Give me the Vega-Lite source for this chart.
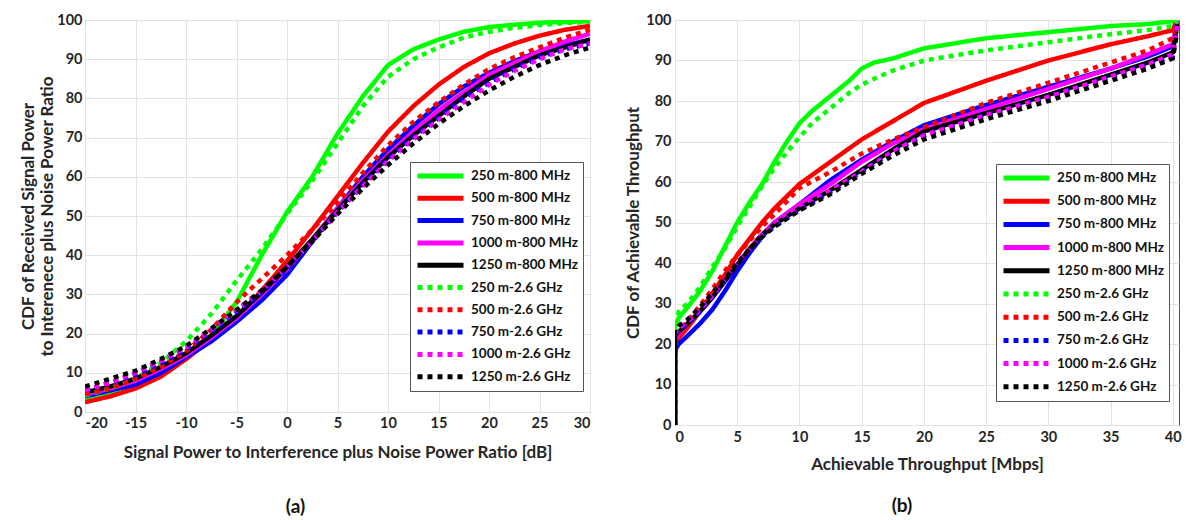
{
  "$schema": "https://vega.github.io/schema/vega-lite/v6.json",
  "background": "white",
  "padding": {"left": 19, "top": 11, "right": 2, "bottom": 2},
  "spacing": 85,
  "bounds": "flush",
  "resolve": {"scale": {"color": "independent", "strokeDash": "independent"}},
  "config": {
    "font": "Lato",
    "view": {"stroke": "#555555", "strokeWidth": 1},
    "axis": {"labelFont": "Lato", "labelFontWeight": "bold", "labelFontSize": 14.5, "labelColor": "#262626", "titleFont": "Lato", "titleFontWeight": "bold", "titleFontSize": 17, "titleColor": "#262626", "gridColor": "#e2e2e2", "domain": false, "ticks": false, "labelPadding": 5, "titleLineHeight": 19},
    "legend": {"symbolType": "stroke", "symbolSize": 2116, "symbolStrokeWidth": 5, "clipHeight": 18, "rowPadding": 4.3, "labelFont": "Lato", "labelFontSize": 13.5, "labelFontWeight": "bold", "labelColor": "#111111", "strokeColor": "#555555", "fillColor": "white", "padding": 5, "labelLimit": 200, "labelOffset": 5},
    "title": {"font": "Lato", "fontSize": 19, "fontWeight": "bold", "color": "#111111", "orient": "bottom", "anchor": "middle", "frame": "group"}
  },
  "datasets": {
    "a": [
      {"s":"250 m-800 MHz","x":-20,"y":3.2},{"s":"250 m-800 MHz","x":-17.5,"y":4.5},{"s":"250 m-800 MHz","x":-15,"y":6.5},{"s":"250 m-800 MHz","x":-12.5,"y":9.5},{"s":"250 m-800 MHz","x":-10,"y":13.5},{"s":"250 m-800 MHz","x":-7.5,"y":19.5},{"s":"250 m-800 MHz","x":-5,"y":28},{"s":"250 m-800 MHz","x":-2.5,"y":40},{"s":"250 m-800 MHz","x":0,"y":51},{"s":"250 m-800 MHz","x":2.5,"y":60},{"s":"250 m-800 MHz","x":5,"y":71},{"s":"250 m-800 MHz","x":7.5,"y":80.5},{"s":"250 m-800 MHz","x":10,"y":88.5},{"s":"250 m-800 MHz","x":12.5,"y":92.5},{"s":"250 m-800 MHz","x":15,"y":95},{"s":"250 m-800 MHz","x":17.5,"y":97},{"s":"250 m-800 MHz","x":20,"y":98.2},{"s":"250 m-800 MHz","x":22.5,"y":98.8},{"s":"250 m-800 MHz","x":25,"y":99.3},{"s":"250 m-800 MHz","x":27.5,"y":99.5},{"s":"250 m-800 MHz","x":30,"y":99.7},
      {"s":"500 m-800 MHz","x":-20,"y":2.5},{"s":"500 m-800 MHz","x":-17.5,"y":4},{"s":"500 m-800 MHz","x":-15,"y":6},{"s":"500 m-800 MHz","x":-12.5,"y":9},{"s":"500 m-800 MHz","x":-10,"y":13.5},{"s":"500 m-800 MHz","x":-7.5,"y":18.5},{"s":"500 m-800 MHz","x":-5,"y":24},{"s":"500 m-800 MHz","x":-2.5,"y":31},{"s":"500 m-800 MHz","x":0,"y":38.5},{"s":"500 m-800 MHz","x":2.5,"y":46.5},{"s":"500 m-800 MHz","x":5,"y":55},{"s":"500 m-800 MHz","x":7.5,"y":63.5},{"s":"500 m-800 MHz","x":10,"y":71.5},{"s":"500 m-800 MHz","x":12.5,"y":78},{"s":"500 m-800 MHz","x":15,"y":83.5},{"s":"500 m-800 MHz","x":17.5,"y":88},{"s":"500 m-800 MHz","x":20,"y":91.5},{"s":"500 m-800 MHz","x":22.5,"y":94},{"s":"500 m-800 MHz","x":25,"y":96},{"s":"500 m-800 MHz","x":27.5,"y":97.5},{"s":"500 m-800 MHz","x":30,"y":98.5},
      {"s":"750 m-800 MHz","x":-20,"y":4},{"s":"750 m-800 MHz","x":-17.5,"y":5.5},{"s":"750 m-800 MHz","x":-15,"y":7},{"s":"750 m-800 MHz","x":-12.5,"y":10},{"s":"750 m-800 MHz","x":-10,"y":14},{"s":"750 m-800 MHz","x":-7.5,"y":18},{"s":"750 m-800 MHz","x":-5,"y":23},{"s":"750 m-800 MHz","x":-2.5,"y":28.5},{"s":"750 m-800 MHz","x":0,"y":35},{"s":"750 m-800 MHz","x":2.5,"y":43.5},{"s":"750 m-800 MHz","x":5,"y":52},{"s":"750 m-800 MHz","x":7.5,"y":60},{"s":"750 m-800 MHz","x":10,"y":67},{"s":"750 m-800 MHz","x":12.5,"y":73},{"s":"750 m-800 MHz","x":15,"y":78.5},{"s":"750 m-800 MHz","x":17.5,"y":83},{"s":"750 m-800 MHz","x":20,"y":86.5},{"s":"750 m-800 MHz","x":22.5,"y":89.5},{"s":"750 m-800 MHz","x":25,"y":92},{"s":"750 m-800 MHz","x":27.5,"y":93.5},{"s":"750 m-800 MHz","x":30,"y":95},
      {"s":"1000 m-800 MHz","x":-20,"y":4.5},{"s":"1000 m-800 MHz","x":-17.5,"y":6},{"s":"1000 m-800 MHz","x":-15,"y":8},{"s":"1000 m-800 MHz","x":-12.5,"y":11},{"s":"1000 m-800 MHz","x":-10,"y":14.5},{"s":"1000 m-800 MHz","x":-7.5,"y":19},{"s":"1000 m-800 MHz","x":-5,"y":24},{"s":"1000 m-800 MHz","x":-2.5,"y":30},{"s":"1000 m-800 MHz","x":0,"y":36.5},{"s":"1000 m-800 MHz","x":2.5,"y":44},{"s":"1000 m-800 MHz","x":5,"y":52},{"s":"1000 m-800 MHz","x":7.5,"y":59},{"s":"1000 m-800 MHz","x":10,"y":65.5},{"s":"1000 m-800 MHz","x":12.5,"y":71.5},{"s":"1000 m-800 MHz","x":15,"y":77},{"s":"1000 m-800 MHz","x":17.5,"y":81.5},{"s":"1000 m-800 MHz","x":20,"y":86},{"s":"1000 m-800 MHz","x":22.5,"y":89},{"s":"1000 m-800 MHz","x":25,"y":92},{"s":"1000 m-800 MHz","x":27.5,"y":94.5},{"s":"1000 m-800 MHz","x":30,"y":96.5},
      {"s":"1250 m-800 MHz","x":-20,"y":5},{"s":"1250 m-800 MHz","x":-17.5,"y":6.5},{"s":"1250 m-800 MHz","x":-15,"y":8.5},{"s":"1250 m-800 MHz","x":-12.5,"y":11.5},{"s":"1250 m-800 MHz","x":-10,"y":15},{"s":"1250 m-800 MHz","x":-7.5,"y":19.5},{"s":"1250 m-800 MHz","x":-5,"y":24.5},{"s":"1250 m-800 MHz","x":-2.5,"y":30.5},{"s":"1250 m-800 MHz","x":0,"y":37},{"s":"1250 m-800 MHz","x":2.5,"y":44},{"s":"1250 m-800 MHz","x":5,"y":51.5},{"s":"1250 m-800 MHz","x":7.5,"y":58.5},{"s":"1250 m-800 MHz","x":10,"y":65},{"s":"1250 m-800 MHz","x":12.5,"y":70.5},{"s":"1250 m-800 MHz","x":15,"y":75.5},{"s":"1250 m-800 MHz","x":17.5,"y":80.5},{"s":"1250 m-800 MHz","x":20,"y":85},{"s":"1250 m-800 MHz","x":22.5,"y":88},{"s":"1250 m-800 MHz","x":25,"y":91},{"s":"1250 m-800 MHz","x":27.5,"y":93},{"s":"1250 m-800 MHz","x":30,"y":95},
      {"s":"250 m-2.6 GHz","x":-20,"y":4.2},{"s":"250 m-2.6 GHz","x":-17.5,"y":6},{"s":"250 m-2.6 GHz","x":-15,"y":8.5},{"s":"250 m-2.6 GHz","x":-12.5,"y":12.5},{"s":"250 m-2.6 GHz","x":-10,"y":18},{"s":"250 m-2.6 GHz","x":-7.5,"y":25},{"s":"250 m-2.6 GHz","x":-5,"y":33.5},{"s":"250 m-2.6 GHz","x":-2.5,"y":41.5},{"s":"250 m-2.6 GHz","x":0,"y":50.5},{"s":"250 m-2.6 GHz","x":2.5,"y":59},{"s":"250 m-2.6 GHz","x":5,"y":68.5},{"s":"250 m-2.6 GHz","x":7.5,"y":78},{"s":"250 m-2.6 GHz","x":10,"y":85.5},{"s":"250 m-2.6 GHz","x":12.5,"y":90},{"s":"250 m-2.6 GHz","x":15,"y":93},{"s":"250 m-2.6 GHz","x":17.5,"y":95.5},{"s":"250 m-2.6 GHz","x":20,"y":97},{"s":"250 m-2.6 GHz","x":22.5,"y":98},{"s":"250 m-2.6 GHz","x":25,"y":98.7},{"s":"250 m-2.6 GHz","x":27.5,"y":99.2},{"s":"250 m-2.6 GHz","x":30,"y":99.5},
      {"s":"500 m-2.6 GHz","x":-20,"y":4.5},{"s":"500 m-2.6 GHz","x":-17.5,"y":6},{"s":"500 m-2.6 GHz","x":-15,"y":8.5},{"s":"500 m-2.6 GHz","x":-12.5,"y":11.5},{"s":"500 m-2.6 GHz","x":-10,"y":15.5},{"s":"500 m-2.6 GHz","x":-7.5,"y":21},{"s":"500 m-2.6 GHz","x":-5,"y":28},{"s":"500 m-2.6 GHz","x":-2.5,"y":34},{"s":"500 m-2.6 GHz","x":0,"y":40},{"s":"500 m-2.6 GHz","x":2.5,"y":46.5},{"s":"500 m-2.6 GHz","x":5,"y":53.5},{"s":"500 m-2.6 GHz","x":7.5,"y":61},{"s":"500 m-2.6 GHz","x":10,"y":68},{"s":"500 m-2.6 GHz","x":12.5,"y":74},{"s":"500 m-2.6 GHz","x":15,"y":79},{"s":"500 m-2.6 GHz","x":17.5,"y":83.5},{"s":"500 m-2.6 GHz","x":20,"y":87.5},{"s":"500 m-2.6 GHz","x":22.5,"y":90.5},{"s":"500 m-2.6 GHz","x":25,"y":93},{"s":"500 m-2.6 GHz","x":27.5,"y":95.5},{"s":"500 m-2.6 GHz","x":30,"y":97.5},
      {"s":"750 m-2.6 GHz","x":-20,"y":5.5},{"s":"750 m-2.6 GHz","x":-17.5,"y":7.5},{"s":"750 m-2.6 GHz","x":-15,"y":9.5},{"s":"750 m-2.6 GHz","x":-12.5,"y":12.5},{"s":"750 m-2.6 GHz","x":-10,"y":16},{"s":"750 m-2.6 GHz","x":-7.5,"y":20.5},{"s":"750 m-2.6 GHz","x":-5,"y":25.5},{"s":"750 m-2.6 GHz","x":-2.5,"y":30.5},{"s":"750 m-2.6 GHz","x":0,"y":36.5},{"s":"750 m-2.6 GHz","x":2.5,"y":43.5},{"s":"750 m-2.6 GHz","x":5,"y":51},{"s":"750 m-2.6 GHz","x":7.5,"y":58},{"s":"750 m-2.6 GHz","x":10,"y":64.5},{"s":"750 m-2.6 GHz","x":12.5,"y":70},{"s":"750 m-2.6 GHz","x":15,"y":75},{"s":"750 m-2.6 GHz","x":17.5,"y":80},{"s":"750 m-2.6 GHz","x":20,"y":84},{"s":"750 m-2.6 GHz","x":22.5,"y":87.5},{"s":"750 m-2.6 GHz","x":25,"y":90.5},{"s":"750 m-2.6 GHz","x":27.5,"y":92.5},{"s":"750 m-2.6 GHz","x":30,"y":94},
      {"s":"1000 m-2.6 GHz","x":-20,"y":5.5},{"s":"1000 m-2.6 GHz","x":-17.5,"y":7.5},{"s":"1000 m-2.6 GHz","x":-15,"y":10},{"s":"1000 m-2.6 GHz","x":-12.5,"y":13},{"s":"1000 m-2.6 GHz","x":-10,"y":16.5},{"s":"1000 m-2.6 GHz","x":-7.5,"y":21},{"s":"1000 m-2.6 GHz","x":-5,"y":26},{"s":"1000 m-2.6 GHz","x":-2.5,"y":31},{"s":"1000 m-2.6 GHz","x":0,"y":37},{"s":"1000 m-2.6 GHz","x":2.5,"y":43.5},{"s":"1000 m-2.6 GHz","x":5,"y":51},{"s":"1000 m-2.6 GHz","x":7.5,"y":57.5},{"s":"1000 m-2.6 GHz","x":10,"y":64},{"s":"1000 m-2.6 GHz","x":12.5,"y":69.5},{"s":"1000 m-2.6 GHz","x":15,"y":74.5},{"s":"1000 m-2.6 GHz","x":17.5,"y":79},{"s":"1000 m-2.6 GHz","x":20,"y":83.5},{"s":"1000 m-2.6 GHz","x":22.5,"y":87},{"s":"1000 m-2.6 GHz","x":25,"y":90},{"s":"1000 m-2.6 GHz","x":27.5,"y":92.5},{"s":"1000 m-2.6 GHz","x":30,"y":94},
      {"s":"1250 m-2.6 GHz","x":-20,"y":6.5},{"s":"1250 m-2.6 GHz","x":-17.5,"y":8.5},{"s":"1250 m-2.6 GHz","x":-15,"y":10.5},{"s":"1250 m-2.6 GHz","x":-12.5,"y":13.5},{"s":"1250 m-2.6 GHz","x":-10,"y":16.8},{"s":"1250 m-2.6 GHz","x":-7.5,"y":21.3},{"s":"1250 m-2.6 GHz","x":-5,"y":26},{"s":"1250 m-2.6 GHz","x":-2.5,"y":31},{"s":"1250 m-2.6 GHz","x":0,"y":37},{"s":"1250 m-2.6 GHz","x":2.5,"y":43.5},{"s":"1250 m-2.6 GHz","x":5,"y":50.5},{"s":"1250 m-2.6 GHz","x":7.5,"y":57},{"s":"1250 m-2.6 GHz","x":10,"y":63},{"s":"1250 m-2.6 GHz","x":12.5,"y":68.5},{"s":"1250 m-2.6 GHz","x":15,"y":73.5},{"s":"1250 m-2.6 GHz","x":17.5,"y":78},{"s":"1250 m-2.6 GHz","x":20,"y":82},{"s":"1250 m-2.6 GHz","x":22.5,"y":85.5},{"s":"1250 m-2.6 GHz","x":25,"y":88.5},{"s":"1250 m-2.6 GHz","x":27.5,"y":91},{"s":"1250 m-2.6 GHz","x":30,"y":93}
    ],
    "b": [
      {"s":"250 m-800 MHz","x":0,"y":0},{"s":"250 m-800 MHz","x":0,"y":24},{"s":"250 m-800 MHz","x":0.3,"y":26.5},{"s":"250 m-800 MHz","x":1,"y":29},{"s":"250 m-800 MHz","x":2,"y":33},{"s":"250 m-800 MHz","x":3,"y":38},{"s":"250 m-800 MHz","x":4,"y":44},{"s":"250 m-800 MHz","x":5,"y":50},{"s":"250 m-800 MHz","x":6,"y":55},{"s":"250 m-800 MHz","x":7,"y":59.5},{"s":"250 m-800 MHz","x":8,"y":65},{"s":"250 m-800 MHz","x":9,"y":70},{"s":"250 m-800 MHz","x":10,"y":74.5},{"s":"250 m-800 MHz","x":11,"y":77.5},{"s":"250 m-800 MHz","x":12,"y":80},{"s":"250 m-800 MHz","x":13,"y":82.5},{"s":"250 m-800 MHz","x":14,"y":85},{"s":"250 m-800 MHz","x":15,"y":88},{"s":"250 m-800 MHz","x":16,"y":89.5},{"s":"250 m-800 MHz","x":17.5,"y":90.5},{"s":"250 m-800 MHz","x":20,"y":93},{"s":"250 m-800 MHz","x":25,"y":95.5},{"s":"250 m-800 MHz","x":30,"y":97},{"s":"250 m-800 MHz","x":35,"y":98.5},{"s":"250 m-800 MHz","x":38,"y":99},{"s":"250 m-800 MHz","x":40,"y":99.7},{"s":"250 m-800 MHz","x":40.35,"y":100},
      {"s":"500 m-800 MHz","x":0,"y":0},{"s":"500 m-800 MHz","x":0,"y":20},{"s":"500 m-800 MHz","x":0.3,"y":21.5},{"s":"500 m-800 MHz","x":1,"y":24},{"s":"500 m-800 MHz","x":2,"y":28},{"s":"500 m-800 MHz","x":3,"y":32.5},{"s":"500 m-800 MHz","x":4,"y":37},{"s":"500 m-800 MHz","x":5,"y":42},{"s":"500 m-800 MHz","x":6,"y":46},{"s":"500 m-800 MHz","x":7,"y":50},{"s":"500 m-800 MHz","x":8,"y":53.5},{"s":"500 m-800 MHz","x":10,"y":59.5},{"s":"500 m-800 MHz","x":12.5,"y":65},{"s":"500 m-800 MHz","x":15,"y":70.5},{"s":"500 m-800 MHz","x":17.5,"y":75},{"s":"500 m-800 MHz","x":20,"y":79.5},{"s":"500 m-800 MHz","x":25,"y":85},{"s":"500 m-800 MHz","x":30,"y":90},{"s":"500 m-800 MHz","x":35,"y":94},{"s":"500 m-800 MHz","x":38,"y":96},{"s":"500 m-800 MHz","x":40,"y":97.5},{"s":"500 m-800 MHz","x":40.35,"y":100},
      {"s":"750 m-800 MHz","x":0,"y":0},{"s":"750 m-800 MHz","x":0,"y":18.5},{"s":"750 m-800 MHz","x":0.3,"y":20},{"s":"750 m-800 MHz","x":1,"y":22},{"s":"750 m-800 MHz","x":2,"y":25},{"s":"750 m-800 MHz","x":3,"y":28.5},{"s":"750 m-800 MHz","x":4,"y":33},{"s":"750 m-800 MHz","x":5,"y":38},{"s":"750 m-800 MHz","x":6,"y":42.5},{"s":"750 m-800 MHz","x":7,"y":46.5},{"s":"750 m-800 MHz","x":8,"y":50},{"s":"750 m-800 MHz","x":10,"y":54.5},{"s":"750 m-800 MHz","x":12.5,"y":60.5},{"s":"750 m-800 MHz","x":15,"y":65.5},{"s":"750 m-800 MHz","x":17.5,"y":70},{"s":"750 m-800 MHz","x":20,"y":74},{"s":"750 m-800 MHz","x":25,"y":79},{"s":"750 m-800 MHz","x":30,"y":83.5},{"s":"750 m-800 MHz","x":35,"y":88},{"s":"750 m-800 MHz","x":38,"y":91},{"s":"750 m-800 MHz","x":40,"y":93.5},{"s":"750 m-800 MHz","x":40.35,"y":99},
      {"s":"1000 m-800 MHz","x":0,"y":0},{"s":"1000 m-800 MHz","x":0,"y":21},{"s":"1000 m-800 MHz","x":0.3,"y":22.5},{"s":"1000 m-800 MHz","x":1,"y":25},{"s":"1000 m-800 MHz","x":2,"y":28},{"s":"1000 m-800 MHz","x":3,"y":31.5},{"s":"1000 m-800 MHz","x":4,"y":35.5},{"s":"1000 m-800 MHz","x":5,"y":39.5},{"s":"1000 m-800 MHz","x":6,"y":43.5},{"s":"1000 m-800 MHz","x":7,"y":47},{"s":"1000 m-800 MHz","x":8,"y":50},{"s":"1000 m-800 MHz","x":10,"y":54.5},{"s":"1000 m-800 MHz","x":12.5,"y":59.5},{"s":"1000 m-800 MHz","x":15,"y":65},{"s":"1000 m-800 MHz","x":17.5,"y":69.5},{"s":"1000 m-800 MHz","x":20,"y":73},{"s":"1000 m-800 MHz","x":25,"y":78},{"s":"1000 m-800 MHz","x":30,"y":83},{"s":"1000 m-800 MHz","x":35,"y":88},{"s":"1000 m-800 MHz","x":38,"y":91.5},{"s":"1000 m-800 MHz","x":40,"y":94},{"s":"1000 m-800 MHz","x":40.35,"y":99.5},
      {"s":"1250 m-800 MHz","x":0,"y":0},{"s":"1250 m-800 MHz","x":0,"y":22},{"s":"1250 m-800 MHz","x":0.3,"y":23},{"s":"1250 m-800 MHz","x":1,"y":25},{"s":"1250 m-800 MHz","x":2,"y":28},{"s":"1250 m-800 MHz","x":3,"y":31.5},{"s":"1250 m-800 MHz","x":4,"y":35.5},{"s":"1250 m-800 MHz","x":5,"y":39.5},{"s":"1250 m-800 MHz","x":6,"y":43.5},{"s":"1250 m-800 MHz","x":7,"y":47},{"s":"1250 m-800 MHz","x":8,"y":49.5},{"s":"1250 m-800 MHz","x":10,"y":53.5},{"s":"1250 m-800 MHz","x":12.5,"y":58},{"s":"1250 m-800 MHz","x":15,"y":63},{"s":"1250 m-800 MHz","x":17.5,"y":68},{"s":"1250 m-800 MHz","x":20,"y":72.5},{"s":"1250 m-800 MHz","x":25,"y":77},{"s":"1250 m-800 MHz","x":30,"y":81.5},{"s":"1250 m-800 MHz","x":35,"y":86.5},{"s":"1250 m-800 MHz","x":38,"y":89.5},{"s":"1250 m-800 MHz","x":40,"y":92},{"s":"1250 m-800 MHz","x":40.35,"y":99},
      {"s":"250 m-2.6 GHz","x":0,"y":0},{"s":"250 m-2.6 GHz","x":0,"y":22},{"s":"250 m-2.6 GHz","x":0.3,"y":28},{"s":"250 m-2.6 GHz","x":1,"y":30},{"s":"250 m-2.6 GHz","x":2,"y":34},{"s":"250 m-2.6 GHz","x":3,"y":39},{"s":"250 m-2.6 GHz","x":4,"y":43.5},{"s":"250 m-2.6 GHz","x":5,"y":49},{"s":"250 m-2.6 GHz","x":6,"y":54},{"s":"250 m-2.6 GHz","x":7,"y":59},{"s":"250 m-2.6 GHz","x":8,"y":63.5},{"s":"250 m-2.6 GHz","x":9,"y":67.5},{"s":"250 m-2.6 GHz","x":10,"y":71},{"s":"250 m-2.6 GHz","x":11,"y":74.5},{"s":"250 m-2.6 GHz","x":12,"y":77},{"s":"250 m-2.6 GHz","x":13,"y":79.5},{"s":"250 m-2.6 GHz","x":14,"y":82},{"s":"250 m-2.6 GHz","x":15,"y":84},{"s":"250 m-2.6 GHz","x":16,"y":85.5},{"s":"250 m-2.6 GHz","x":17.5,"y":87.5},{"s":"250 m-2.6 GHz","x":20,"y":90},{"s":"250 m-2.6 GHz","x":25,"y":92.5},{"s":"250 m-2.6 GHz","x":30,"y":94.5},{"s":"250 m-2.6 GHz","x":35,"y":96.5},{"s":"250 m-2.6 GHz","x":38,"y":97.5},{"s":"250 m-2.6 GHz","x":40,"y":98.5},{"s":"250 m-2.6 GHz","x":40.35,"y":100},
      {"s":"500 m-2.6 GHz","x":0,"y":0},{"s":"500 m-2.6 GHz","x":0,"y":21},{"s":"500 m-2.6 GHz","x":0.3,"y":23},{"s":"500 m-2.6 GHz","x":1,"y":25.5},{"s":"500 m-2.6 GHz","x":2,"y":29.5},{"s":"500 m-2.6 GHz","x":3,"y":33.5},{"s":"500 m-2.6 GHz","x":4,"y":38},{"s":"500 m-2.6 GHz","x":5,"y":42},{"s":"500 m-2.6 GHz","x":6,"y":45.5},{"s":"500 m-2.6 GHz","x":7,"y":49},{"s":"500 m-2.6 GHz","x":8,"y":52},{"s":"500 m-2.6 GHz","x":10,"y":58.5},{"s":"500 m-2.6 GHz","x":12.5,"y":62.5},{"s":"500 m-2.6 GHz","x":15,"y":67},{"s":"500 m-2.6 GHz","x":17.5,"y":70.5},{"s":"500 m-2.6 GHz","x":20,"y":73.5},{"s":"500 m-2.6 GHz","x":25,"y":79.5},{"s":"500 m-2.6 GHz","x":30,"y":84.5},{"s":"500 m-2.6 GHz","x":35,"y":89.5},{"s":"500 m-2.6 GHz","x":38,"y":92.5},{"s":"500 m-2.6 GHz","x":40,"y":95.5},{"s":"500 m-2.6 GHz","x":40.35,"y":99},
      {"s":"750 m-2.6 GHz","x":0,"y":0},{"s":"750 m-2.6 GHz","x":0,"y":22},{"s":"750 m-2.6 GHz","x":0.3,"y":23.5},{"s":"750 m-2.6 GHz","x":1,"y":25},{"s":"750 m-2.6 GHz","x":2,"y":28},{"s":"750 m-2.6 GHz","x":3,"y":31.5},{"s":"750 m-2.6 GHz","x":4,"y":35.5},{"s":"750 m-2.6 GHz","x":5,"y":39.5},{"s":"750 m-2.6 GHz","x":6,"y":43},{"s":"750 m-2.6 GHz","x":7,"y":46.5},{"s":"750 m-2.6 GHz","x":8,"y":49},{"s":"750 m-2.6 GHz","x":10,"y":53},{"s":"750 m-2.6 GHz","x":12.5,"y":57.5},{"s":"750 m-2.6 GHz","x":15,"y":62.5},{"s":"750 m-2.6 GHz","x":17.5,"y":67.5},{"s":"750 m-2.6 GHz","x":20,"y":71.5},{"s":"750 m-2.6 GHz","x":25,"y":76.5},{"s":"750 m-2.6 GHz","x":30,"y":81},{"s":"750 m-2.6 GHz","x":35,"y":86},{"s":"750 m-2.6 GHz","x":38,"y":89},{"s":"750 m-2.6 GHz","x":40,"y":91},{"s":"750 m-2.6 GHz","x":40.35,"y":98},
      {"s":"1000 m-2.6 GHz","x":0,"y":0},{"s":"1000 m-2.6 GHz","x":0,"y":22.5},{"s":"1000 m-2.6 GHz","x":0.3,"y":24},{"s":"1000 m-2.6 GHz","x":1,"y":25.5},{"s":"1000 m-2.6 GHz","x":2,"y":28.5},{"s":"1000 m-2.6 GHz","x":3,"y":32},{"s":"1000 m-2.6 GHz","x":4,"y":36},{"s":"1000 m-2.6 GHz","x":5,"y":40},{"s":"1000 m-2.6 GHz","x":6,"y":43.5},{"s":"1000 m-2.6 GHz","x":7,"y":47},{"s":"1000 m-2.6 GHz","x":8,"y":49.5},{"s":"1000 m-2.6 GHz","x":10,"y":53.5},{"s":"1000 m-2.6 GHz","x":12.5,"y":58},{"s":"1000 m-2.6 GHz","x":15,"y":62.5},{"s":"1000 m-2.6 GHz","x":17.5,"y":67.5},{"s":"1000 m-2.6 GHz","x":20,"y":71.5},{"s":"1000 m-2.6 GHz","x":25,"y":76.5},{"s":"1000 m-2.6 GHz","x":30,"y":81},{"s":"1000 m-2.6 GHz","x":35,"y":86},{"s":"1000 m-2.6 GHz","x":38,"y":89},{"s":"1000 m-2.6 GHz","x":40,"y":91.5},{"s":"1000 m-2.6 GHz","x":40.35,"y":98.5},
      {"s":"1250 m-2.6 GHz","x":0,"y":0},{"s":"1250 m-2.6 GHz","x":0,"y":23.5},{"s":"1250 m-2.6 GHz","x":0.3,"y":24.5},{"s":"1250 m-2.6 GHz","x":1,"y":26},{"s":"1250 m-2.6 GHz","x":2,"y":29},{"s":"1250 m-2.6 GHz","x":3,"y":32.5},{"s":"1250 m-2.6 GHz","x":4,"y":36},{"s":"1250 m-2.6 GHz","x":5,"y":40},{"s":"1250 m-2.6 GHz","x":6,"y":43.5},{"s":"1250 m-2.6 GHz","x":7,"y":46.5},{"s":"1250 m-2.6 GHz","x":8,"y":49},{"s":"1250 m-2.6 GHz","x":10,"y":53},{"s":"1250 m-2.6 GHz","x":12.5,"y":57},{"s":"1250 m-2.6 GHz","x":15,"y":62},{"s":"1250 m-2.6 GHz","x":17.5,"y":66.5},{"s":"1250 m-2.6 GHz","x":20,"y":70.5},{"s":"1250 m-2.6 GHz","x":25,"y":75.5},{"s":"1250 m-2.6 GHz","x":30,"y":80},{"s":"1250 m-2.6 GHz","x":35,"y":85},{"s":"1250 m-2.6 GHz","x":38,"y":88},{"s":"1250 m-2.6 GHz","x":40,"y":90.5},{"s":"1250 m-2.6 GHz","x":40.35,"y":97}
    ]
  },
  "hconcat": [
    {
      "data": {"name": "a"},
      "width": 505,
      "height": 392,
      "title": {"text": "(a)", "dx": -42, "offset": 37},
      "mark": {"type": "line", "strokeWidth": 4.5, "clip": true, "strokeCap": "butt"},
      "encoding": {
        "x": {"field": "x", "type": "quantitative", "scale": {"domain": [-20, 30], "nice": false, "zero": false},
              "axis": {"values": [-20, -15, -10, -5, 0, 5, 10, 15, 20, 25, 30], "labelExpr": "datum.value < 0 ? '-' + abs(datum.value) : '' + datum.value", "title": "Signal Power to Interference plus Noise Power Ratio [dB]", "titlePadding": 15, "labelPadding": 4}},
        "y": {"field": "y", "type": "quantitative", "scale": {"domain": [0, 100], "nice": false},
              "axis": {"values": [0, 10, 20, 30, 40, 50, 60, 70, 80, 90, 100], "title": ["CDF of Received Signal Power", "to Interenece plus Noise Power Ratio"], "titlePadding": 0, "labelPadding": 3}},
        "color": {"field": "s", "type": "nominal",
                  "scale": {"domain": ["250 m-800 MHz", "500 m-800 MHz", "750 m-800 MHz", "1000 m-800 MHz", "1250 m-800 MHz", "250 m-2.6 GHz", "500 m-2.6 GHz", "750 m-2.6 GHz", "1000 m-2.6 GHz", "1250 m-2.6 GHz"],
                            "range": ["#00ff00", "#ff0000", "#0000ff", "#ff00ff", "#000000", "#00ff00", "#ff0000", "#0000ff", "#ff00ff", "#000000"]},
                  "legend": {"title": null, "orient": "none", "legendX": 325, "legendY": 142}},
        "strokeDash": {"field": "s", "type": "nominal",
                  "scale": {"domain": ["250 m-800 MHz", "500 m-800 MHz", "750 m-800 MHz", "1000 m-800 MHz", "1250 m-800 MHz", "250 m-2.6 GHz", "500 m-2.6 GHz", "750 m-2.6 GHz", "1000 m-2.6 GHz", "1250 m-2.6 GHz"],
                            "range": [[1, 0], [1, 0], [1, 0], [1, 0], [1, 0], [5, 5], [5, 5], [5, 5], [5, 5], [5, 5]]},
                  "legend": {"title": null, "orient": "none", "legendX": 325, "legendY": 142}},
        "order": {"field": "y", "type": "quantitative"}
      }
    },
    {
      "data": {"name": "b"},
      "width": 504,
      "height": 405,
      "title": {"text": "(b)", "dx": -25, "offset": 24},
      "mark": {"type": "line", "strokeWidth": 4.5, "clip": true, "strokeCap": "butt"},
      "encoding": {
        "x": {"field": "x", "type": "quantitative", "scale": {"domain": [0, 40.5], "nice": false},
              "axis": {"values": [0, 5, 10, 15, 20, 25, 30, 35, 40], "title": "Achievable Throughput [Mbps]", "titlePadding": 13, "labelPadding": 5}},
        "y": {"field": "y", "type": "quantitative", "scale": {"domain": [0, 100], "nice": false},
              "axis": {"values": [0, 10, 20, 30, 40, 50, 60, 70, 80, 90, 100], "title": "CDF of Achievable Throughput", "titlePadding": 3, "labelPadding": 4}},
        "color": {"field": "s", "type": "nominal",
                  "scale": {"domain": ["250 m-800 MHz", "500 m-800 MHz", "750 m-800 MHz", "1000 m-800 MHz", "1250 m-800 MHz", "250 m-2.6 GHz", "500 m-2.6 GHz", "750 m-2.6 GHz", "1000 m-2.6 GHz", "1250 m-2.6 GHz"],
                            "range": ["#00ff00", "#ff0000", "#0000ff", "#ff00ff", "#000000", "#00ff00", "#ff0000", "#0000ff", "#ff00ff", "#000000"]},
                  "legend": {"title": null, "orient": "none", "legendX": 321, "legendY": 144, "rowPadding": 5.2}},
        "strokeDash": {"field": "s", "type": "nominal",
                  "scale": {"domain": ["250 m-800 MHz", "500 m-800 MHz", "750 m-800 MHz", "1000 m-800 MHz", "1250 m-800 MHz", "250 m-2.6 GHz", "500 m-2.6 GHz", "750 m-2.6 GHz", "1000 m-2.6 GHz", "1250 m-2.6 GHz"],
                            "range": [[1, 0], [1, 0], [1, 0], [1, 0], [1, 0], [5, 5], [5, 5], [5, 5], [5, 5], [5, 5]]},
                  "legend": {"title": null, "orient": "none", "legendX": 321, "legendY": 144, "rowPadding": 5.2}},
        "order": {"field": "y", "type": "quantitative"}
      }
    }
  ]
}
